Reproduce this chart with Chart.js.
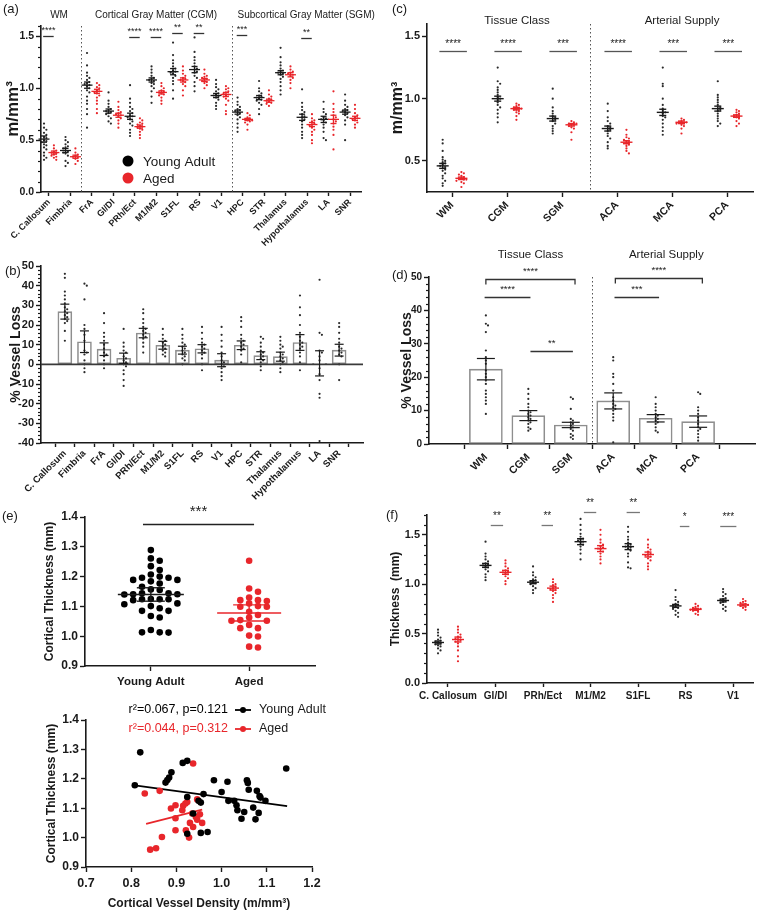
<!DOCTYPE html>
<html><head><meta charset="utf-8">
<script src="https://cdn.jsdelivr.net/npm/chart.js@4/dist/chart.umd.min.js"></script>
<style>
html,body{margin:0;padding:0;background:#fff;}
#wrap{position:relative;width:759px;height:914px;overflow:hidden;background:#fff}
canvas{position:absolute}
</style></head><body>
<div id="wrap">
<canvas id="cA" width="380" height="250" style="left:0px;top:0px"></canvas>
<canvas id="cB" width="380" height="260" style="left:0px;top:250px"></canvas>
<canvas id="cC" width="389" height="240" style="left:370px;top:0px"></canvas>
<canvas id="cD" width="389" height="245" style="left:370px;top:240px"></canvas>
<canvas id="cE1" width="380" height="215" style="left:0px;top:490px"></canvas>
<canvas id="cE2" width="380" height="214" style="left:0px;top:700px"></canvas>
<canvas id="cF" width="389" height="230" style="left:370px;top:490px"></canvas>
</div>
<script>
// ================= DATA =================
// ---- (a) vessel density by region ----
const regionsA = ['C. Callosum','Fimbria','FrA','GI/DI','PRh/Ect','M1/M2','S1FL','RS','V1','HPC','STR','Thalamus','Hypothalamus','LA','SNR'];
const groupsA = ['WM','Cortical Gray Matter (CGM)','Subcortical Gray Matter (SGM)'];
const ticksYA = [0, 0.5, 1.0, 1.5];
const densYoungA = [
 [0.66,0.62,0.60,0.57,0.55,0.53,0.52,0.50,0.49,0.48,0.46,0.45,0.43,0.41,0.38,0.35,0.33,0.31],
 [0.53,0.50,0.48,0.46,0.44,0.43,0.42,0.40,0.39,0.38,0.37,0.35,0.30,0.28,0.25],
 [1.34,1.22,1.15,1.12,1.10,1.08,1.06,1.05,1.04,1.03,1.02,1.00,0.98,0.96,0.92,0.88,0.85,0.80,0.75,0.62],
 [0.96,0.88,0.85,0.82,0.80,0.79,0.78,0.77,0.76,0.75,0.73,0.71,0.68,0.66],
 [1.03,0.90,0.86,0.82,0.80,0.78,0.76,0.74,0.73,0.72,0.70,0.68,0.66,0.64,0.60,0.57,0.54],
 [1.21,1.18,1.15,1.12,1.10,1.09,1.08,1.07,1.05,1.04,1.02,1.00,0.97,0.92,0.86],
 [1.44,1.32,1.27,1.24,1.21,1.19,1.17,1.16,1.15,1.14,1.12,1.10,1.07,1.04,0.98,0.90],
 [1.49,1.35,1.30,1.27,1.24,1.21,1.19,1.18,1.16,1.15,1.12,1.10,1.06,1.02,0.97],
 [1.08,1.04,1.01,0.99,0.97,0.95,0.94,0.93,0.92,0.91,0.89,0.86,0.83,0.80],
 [0.91,0.87,0.84,0.82,0.80,0.79,0.78,0.77,0.76,0.74,0.72,0.70,0.66,0.62,0.58],
 [1.07,1.00,0.97,0.95,0.93,0.92,0.91,0.90,0.89,0.88,0.86,0.84,0.80,0.75],
 [1.39,1.30,1.25,1.22,1.19,1.17,1.16,1.15,1.14,1.13,1.11,1.09,1.06,1.02,0.98,0.94],
 [0.99,0.86,0.82,0.79,0.77,0.75,0.73,0.72,0.70,0.68,0.65,0.62,0.58,0.55,0.52],
 [0.87,0.80,0.77,0.75,0.72,0.71,0.70,0.69,0.67,0.65,0.62,0.58,0.52,0.50],
 [0.94,0.88,0.84,0.82,0.80,0.79,0.78,0.77,0.76,0.74,0.72,0.69,0.65,0.50]
];
const densAgedA = [
 [0.45,0.42,0.40,0.39,0.38,0.37,0.36,0.35,0.34,0.33,0.31],
 [0.42,0.38,0.36,0.35,0.34,0.33,0.32,0.30,0.27],
 [1.05,1.03,1.01,1.00,0.98,0.97,0.96,0.95,0.93,0.91,0.88,0.85,0.80,0.76],
 [0.87,0.82,0.79,0.77,0.76,0.75,0.74,0.73,0.71,0.69,0.66,0.62],
 [0.71,0.69,0.67,0.66,0.65,0.64,0.63,0.62,0.61,0.60,0.58,0.55,0.52],
 [1.05,1.02,1.00,0.98,0.97,0.96,0.95,0.94,0.93,0.91,0.88,0.85],
 [1.21,1.17,1.14,1.12,1.10,1.09,1.08,1.07,1.06,1.04,1.02,0.98,0.93],
 [1.18,1.14,1.12,1.11,1.10,1.09,1.08,1.07,1.06,1.05,1.03,1.00],
 [1.02,1.00,0.99,0.97,0.96,0.95,0.94,0.93,0.92,0.90,0.88,0.84,0.78,0.75],
 [0.76,0.74,0.72,0.71,0.70,0.69,0.69,0.68,0.67,0.65,0.60],
 [0.98,0.94,0.92,0.90,0.89,0.88,0.87,0.86,0.85,0.83],
 [1.21,1.18,1.16,1.15,1.14,1.13,1.12,1.10,1.08,1.05,1.00],
 [0.75,0.71,0.69,0.68,0.66,0.65,0.64,0.62,0.60,0.58,0.55,0.50,0.47],
 [0.97,0.85,0.80,0.77,0.74,0.72,0.70,0.68,0.66,0.63,0.60,0.55,0.41],
 [0.84,0.80,0.76,0.74,0.72,0.71,0.70,0.69,0.67,0.65,0.62]
];
const meanYoungA = [0.51,0.40,1.03,0.78,0.73,1.08,1.16,1.18,0.93,0.77,0.91,1.15,0.72,0.70,0.77];
const semYoungA  = [0.03,0.02,0.03,0.02,0.03,0.02,0.03,0.03,0.02,0.02,0.02,0.02,0.03,0.03,0.02];
const meanAgedA  = [0.38,0.34,0.97,0.74,0.63,0.96,1.08,1.08,0.94,0.70,0.88,1.13,0.65,0.70,0.71];
const semAgedA   = [0.015,0.015,0.02,0.02,0.015,0.015,0.02,0.015,0.02,0.01,0.015,0.02,0.02,0.04,0.02];
const sigIdxA   = [0, 4, 5, 6, 7, 9, 12];
const sigLevelA = [1.50, 1.49, 1.49, 1.53, 1.53, 1.51, 1.48];
const sigTextA  = ['****','****','****','**','**','***','**'];

// ---- (b) % vessel loss by region ----
const ticksYB = [-40,-30,-20,-10,0,10,20,30,40,50];
const lossMeanB = [26.8,11.5,7.7,3.1,15.9,9.7,7.2,7.9,2.1,9.7,4.4,3.9,11.1,0.5,7.2];
const lossSemB  = [3.8,5.5,3.2,2.6,2.4,2.0,2.0,2.1,3.3,2.2,2.0,2.3,4.0,6.4,3.0];
const lossPtsB = [
 [46,44,37,35,33,31,29,28,27,26,25,24,23,22,21,17,12],
 [41,40,33,20,18,15,12,7,6,5,2,0,-2,-4],
 [26,21,16,14,12,10,8,6,5,4,2,0,-2],
 [18,11,9,7,6,4,3,2,1,0,-1,-3,-5,-8,-11],
 [28,26,23,21,19,18,17,16,15,14,13,11,9,6],
 [18,15,13,12,11,10,9,8,7,6,5,4],
 [18,15,13,11,10,9,8,7,6,5,4,3,2,0],
 [19,16,13,11,10,9,8,7,6,5,3,0,-3],
 [19,15,12,9,6,4,2,1,0,-1,-2,-4,-6,-8],
 [24,22,19,15,13,12,11,10,9,8,7,5,1],
 [14,13,11,9,7,6,5,4,3,2,1,-1,-3],
 [14,12,10,9,8,6,5,4,3,2,1,0,-2,-4],
 [35,29,25,20,16,14,12,11,10,9,8,6,4,1,-3],
 [43,16,15,7,6,4,2,-2,-5,-8,-15,-17,-39],
 [21,19,16,13,11,9,8,7,6,5,4,0,-8]
];

// ---- (c) vessel density by tissue class / arterial supply ----
const classesC = ['WM','CGM','SGM','ACA','MCA','PCA'];
const groupsC = ['Tissue Class','Arterial Supply'];
const ticksYC = [0.5, 1.0, 1.5];
const densYoungC = [
 [0.67,0.64,0.58,0.53,0.51,0.50,0.49,0.48,0.47,0.46,0.45,0.44,0.43,0.42,0.40,0.38,0.36,0.34,0.32,0.30],
 [1.25,1.14,1.12,1.09,1.07,1.05,1.03,1.01,1.00,0.99,0.97,0.95,0.93,0.91,0.88,0.85,0.81],
 [1.08,1.00,0.93,0.90,0.88,0.86,0.85,0.84,0.83,0.82,0.80,0.78,0.76,0.74,0.72],
 [0.96,0.90,0.85,0.82,0.80,0.78,0.77,0.76,0.75,0.74,0.72,0.70,0.68,0.65,0.62,0.60],
 [1.25,1.12,1.10,1.00,0.95,0.92,0.90,0.89,0.88,0.86,0.85,0.83,0.80,0.77,0.74,0.71],
 [1.14,1.03,1.01,0.99,0.97,0.95,0.93,0.92,0.91,0.90,0.88,0.86,0.84,0.82,0.80,0.78]
];
const densAgedC = [
 [0.41,0.40,0.39,0.38,0.37,0.36,0.36,0.35,0.35,0.34,0.33,0.32,0.29],
 [0.96,0.95,0.94,0.93,0.92,0.92,0.91,0.91,0.90,0.89,0.88,0.86,0.83],
 [0.82,0.81,0.80,0.80,0.79,0.79,0.78,0.77,0.76,0.73,0.67],
 [0.75,0.71,0.69,0.68,0.67,0.66,0.65,0.64,0.63,0.62,0.60,0.58,0.56],
 [0.84,0.83,0.82,0.81,0.81,0.80,0.80,0.79,0.78,0.76,0.72],
 [0.91,0.90,0.89,0.88,0.87,0.86,0.86,0.85,0.84,0.82,0.80,0.78]
];
const meanYoungC = [0.46,1.00,0.84,0.76,0.89,0.92];
const semYoungC  = [0.02,0.02,0.02,0.02,0.025,0.02];
const meanAgedC  = [0.36,0.92,0.79,0.65,0.81,0.86];
const semAgedC   = [0.01,0.01,0.01,0.012,0.01,0.01];
const sigTextC   = ['****','****','***','****','***','***'];
const sigLevelC  = 1.38;

// ---- (d) % vessel loss by tissue class / arterial supply ----
const ticksYD = [0,10,20,30,40,50];
const lossMeanD = [22.4,8.5,5.7,12.9,7.7,6.7];
const lossSemD  = [3.2,1.5,0.8,2.4,1.1,1.7];
const lossPtsD = [
 [38.5,36,35.5,33.5,28,26,25,24,22,21,20,19,18,16,15,14,13,12,9],
 [16.5,15,13.5,12,11,10,9.5,9,8.5,8,7.5,7,6.5,6,5,4.5,4],
 [14,13.5,10.5,7.5,7,6.5,6,5.5,5,4.5,4,3,2.5,2,1.5],
 [26,25,21,20,18,16,14,13,12,11.5,11,10.5,10,9,8,7,0.5],
 [14,12,11,10,9,8.5,8,7.5,7,6.5,6,5,4,3.5],
 [15.5,15,11,10,9,8,7,6,5,4.5,4,3,2,1]
];
// comparisons: [from, to, level, text, bracket]
const compD = [
 [0, 2.1, 49.4, '****', true],
 [-0.03, 1.05, 44, '****', false],
 [1.05, 2.05, 27.8, '**', false],
 [3.05, 5.1, 49.7, '****', true],
 [3.03, 4.08, 44, '***', false]
];

// ---- (e) cortical thickness ----
const ageGroups = ['Young Adult','Aged'];
const ticksYE = [0.9,1.0,1.1,1.2,1.3,1.4];
const thickYoungE = [1.289,1.261,1.253,1.235,1.222,1.207,1.200,1.196,1.196,1.189,1.189,1.184,1.177,1.166,1.157,1.155,1.144,1.144,1.141,1.141,1.140,1.125,1.124,1.124,1.124,1.121,1.110,1.107,1.101,1.094,1.085,1.085,1.068,1.063,1.021,1.013,1.013,1.012];
const thickAgedE  = [1.253,1.160,1.149,1.130,1.121,1.121,1.118,1.110,1.101,1.099,1.099,1.082,1.071,1.063,1.054,1.052,1.052,1.038,1.027,1.027,1.002,0.999,0.965,0.962];
const meanE = [1.140, 1.078];
const semE  = [0.0225, 0.027];
// scatter: density (x) vs thickness (y)
const ticksXE2 = [0.7,0.8,0.9,1.0,1.1,1.2];
const youngDens  = [0.820,0.808,0.914,0.924,0.889,0.876,0.880,0.884,0.924,0.949,0.954,0.960,0.937,0.924,0.954,0.969,0.983,1.000,1.013,1.015,1.028,1.033,1.035,1.044,1.050,1.056,1.058,1.060,1.070,1.075,1.078,1.082,1.084,1.086,1.097,1.143];
const youngThick = [1.290,1.178,1.254,1.261,1.222,1.187,1.196,1.204,1.138,1.125,1.119,1.148,1.082,1.013,1.016,1.019,1.195,1.155,1.190,1.125,1.125,1.110,1.093,1.064,1.087,1.195,1.186,1.163,1.102,1.062,1.159,1.084,1.141,1.136,1.125,1.235];
const agedDens   = [0.830,0.863,0.937,0.888,0.898,0.913,0.915,0.920,0.924,0.898,0.898,0.868,0.842,0.855,0.921,0.928,0.930,0.937,0.935,0.946,0.943,0.946,0.957,0.952];
const agedThick  = [1.150,1.159,1.252,1.099,1.110,1.093,1.108,1.116,1.121,1.066,1.025,1.002,0.959,0.964,1.025,1.000,1.050,1.036,1.082,1.130,1.070,1.061,1.050,1.079];
const fitYoungX = [0.808, 1.145], fitYoungY = [1.178, 1.107];
const fitAgedX  = [0.833, 0.957], fitAgedY  = [1.047, 1.095];
const statsE2 = ['r\u00B2=0.067, p=0.121', 'r\u00B2=0.044, p=0.312'];

// ---- (f) thickness by region ----
const regionsF = ['C. Callosum','GI/DI','PRh/Ect','M1/M2','S1FL','RS','V1'];
const ticksYF = [0, 0.5, 1.0, 1.5];
const thickYoungF = [
 [0.54,0.51,0.48,0.46,0.44,0.43,0.42,0.41,0.40,0.39,0.38,0.37,0.35,0.33,0.30],
 [1.43,1.31,1.28,1.25,1.23,1.21,1.20,1.19,1.18,1.17,1.15,1.13,1.10,1.07,1.04],
 [1.18,1.12,1.09,1.07,1.05,1.04,1.03,1.02,1.01,1.00,0.98,0.96,0.94,0.91],
 [1.66,1.60,1.55,1.51,1.48,1.46,1.45,1.44,1.43,1.42,1.40,1.38,1.35,1.31,1.25],
 [1.58,1.53,1.48,1.45,1.42,1.40,1.39,1.38,1.37,1.36,1.34,1.31,1.28,1.22,1.17,1.16],
 [0.94,0.87,0.84,0.82,0.80,0.79,0.78,0.77,0.76,0.75,0.73,0.71,0.69,0.67],
 [0.95,0.92,0.90,0.88,0.86,0.85,0.84,0.83,0.82,0.81,0.79,0.77,0.75,0.73]
];
const thickAgedF = [
 [0.57,0.54,0.51,0.49,0.47,0.46,0.45,0.44,0.43,0.42,0.40,0.37,0.33,0.27,0.22],
 [1.24,1.21,1.18,1.16,1.14,1.13,1.12,1.11,1.10,1.08,1.06,1.03,1.00],
 [1.05,1.02,1.00,0.99,0.97,0.96,0.95,0.94,0.93,0.91,0.89,0.86,0.82],
 [1.55,1.50,1.45,1.42,1.40,1.38,1.37,1.36,1.35,1.33,1.31,1.28,1.25,1.21],
 [1.45,1.40,1.37,1.35,1.33,1.31,1.30,1.29,1.28,1.26,1.24,1.21,1.18,1.15],
 [0.80,0.78,0.77,0.76,0.75,0.75,0.74,0.74,0.73,0.72,0.70,0.69],
 [0.85,0.83,0.82,0.81,0.80,0.79,0.79,0.78,0.77,0.76,0.74]
];
const meanYoungF = [0.41,1.19,1.02,1.43,1.38,0.78,0.835];
const semYoungF  = [0.015,0.02,0.015,0.03,0.03,0.015,0.015];
const meanAgedF  = [0.44,1.12,0.96,1.36,1.30,0.745,0.79];
const semAgedF   = [0.025,0.02,0.02,0.03,0.025,0.01,0.01];
const sigCenterF = [1.03, 2.09, 2.99, 3.9, 4.98, 5.9];
const sigHalfF   = [0.13, 0.12, 0.13, 0.14, 0.10, 0.17];
const sigLevelF  = [1.60, 1.60, 1.73, 1.73, 1.59, 1.59];
const sigTextF   = ['**','**','**','**','*','***'];

// ================= RENDERING =================
const FONT = "'Liberation Sans', Arial, Helvetica, sans-serif";
const BLK = '#1a1a1a', RED = '#e8262b', GRY = '#8e8e8e';
Chart.defaults.font.family = FONT;
Chart.defaults.color = BLK;

// beeswarm layout: horizontal offsets only, values unchanged
function swarm(vals, center, stepX, tolY) {
  const placed = [], out = [];
  vals.slice().sort((a, b) => b - a).forEach(v => {
    let n = 0, k = 0;
    for (;;) {
      k = n === 0 ? 0 : (n % 2 === 1 ? (n + 1) / 2 : -n / 2);
      if (!placed.some(p => p.k === k && Math.abs(p.v - v) < tolY)) break;
      n++;
    }
    placed.push({k, v});
    out.push({x: center + k * stepX, y: v});
  });
  return out;
}
function cloud(groups, off, stepX, tolY) {
  return groups.flatMap((vals, i) => swarm(vals, i + off, stepX, tolY));
}
function pts(data, color, r) {
  return {type: 'scatter', data, backgroundColor: color, borderWidth: 0, pointRadius: r, pointHoverRadius: r, order: 1};
}
function bars(means, thick) {
  return {type: 'bar', data: means.map((m, i) => ({x: i, y: m})), backgroundColor: '#fff', borderColor: GRY,
    borderWidth: 1.6, borderSkipped: false, barThickness: thick, order: 3};
}
function axis(o, horizontal) {
  return {
    type: 'linear', min: o.min, max: o.max,
    afterBuildTicks: s => { s.ticks = o.ticks.map(v => ({value: v})); },
    afterFit: s => {
      if (horizontal) s.height = o.size; else s.width = o.size;
      s.paddingLeft = 0; s.paddingRight = 0; s.paddingTop = 0; s.paddingBottom = 0;
    },
    border: {display: true, color: BLK, width: o.bw || 1.6},
    grid: {display: true, drawOnChartArea: false, drawTicks: true, tickLength: o.tl === undefined ? 5 : o.tl, tickColor: BLK, tickWidth: 1.4},
    ticks: {autoSkip: false, padding: o.pad === undefined ? 2 : o.pad, color: BLK,
      font: {size: o.fs, weight: 'bold', family: FONT}, callback: o.cb,
      maxRotation: o.rot || 0, minRotation: o.rot || 0},
    title: o.title ? {display: true, text: o.title, color: BLK, font: {size: o.tfs, weight: 'bold', family: FONT},
      padding: {top: 0, bottom: o.tpad || 0}} : {display: false}
  };
}
function makeChart(id, pad, datasets, xo, yo) {
  return new Chart(document.getElementById(id), {
    type: 'scatter',
    data: {datasets},
    options: {
      responsive: false, animation: false, devicePixelRatio: 1, events: [],
      layout: {padding: pad},
      plugins: {legend: {display: false}, tooltip: {enabled: false}},
      scales: {x: axis(xo, true), y: axis(yo, false)}
    }
  });
}

const DECOR = {};
function seg(ctx, x1, y1, x2, y2) { ctx.beginPath(); ctx.moveTo(x1, y1); ctx.lineTo(x2, y2); ctx.stroke(); }
Chart.register({
  id: 'decor',
  beforeDatasetsDraw(chart) {
    const d = DECOR[chart.canvas.id]; if (!d) return;
    const ctx = chart.ctx, ca = chart.chartArea, xs = chart.scales.x;
    ctx.save();
    ctx.strokeStyle = '#555'; ctx.lineWidth = 1; ctx.setLineDash([1.5, 2.5]);
    (d.dividers || []).forEach(v => { const x = Math.round(xs.getPixelForValue(v)) + 0.5; seg(ctx, x, ca.top, x, ca.bottom); });
    ctx.restore();
  },
  afterDatasetsDraw(chart) {
    const d = DECOR[chart.canvas.id]; if (!d) return;
    const ctx = chart.ctx, ca = chart.chartArea, xs = chart.scales.x, ys = chart.scales.y;
    ctx.save();
    if (d.zero !== undefined) {
      ctx.strokeStyle = '#3a3a3a'; ctx.lineWidth = 1.8;
      const y = ys.getPixelForValue(d.zero); seg(ctx, ca.left, y, ca.right, y);
    }
    (d.summ || []).forEach(s => {
      ctx.strokeStyle = s.color; ctx.lineWidth = s.lw;
      s.means.forEach((m, i) => {
        const cx = xs.getPixelForValue(i + s.off);
        const e = s.errs[i], yt = ys.getPixelForValue(m + e), yb = ys.getPixelForValue(m - e), ym = ys.getPixelForValue(m);
        if (s.meanW) seg(ctx, cx - s.meanW / 2, ym, cx + s.meanW / 2, ym);
        seg(ctx, cx, yt, cx, yb);
        seg(ctx, cx - s.capW / 2, yt, cx + s.capW / 2, yt);
        seg(ctx, cx - s.capW / 2, yb, cx + s.capW / 2, yb);
      });
    });
    ctx.restore();
  },
  afterDraw(chart) {
    const d = DECOR[chart.canvas.id]; if (!d) return;
    const ctx = chart.ctx, ca = chart.chartArea, xs = chart.scales.x, ys = chart.scales.y;
    const X = v => xs.getPixelForValue(v), Y = v => ys.getPixelForValue(v);
    ctx.save();
    if (d.minor) {
      const m = d.minor;
      ctx.strokeStyle = BLK; ctx.lineWidth = 1.2;
      for (let k = 0; ; k++) {
        const v = m.from + k * m.step; if (v > m.to + 1e-9) break;
        if (m.skip.some(s => Math.abs(s - v) < 1e-6)) continue;
        const y = Math.round(Y(v)) + 0.5; seg(ctx, ca.left - m.len, y, ca.left, y);
      }
    }
    (d.sig || []).forEach(s => {
      ctx.strokeStyle = s.color || '#333'; ctx.lineWidth = s.lw || 1.3;
      const x1 = X(s.x1), x2 = X(s.x2), y = Math.round(Y(s.y)) + 0.5;
      ctx.beginPath();
      if (s.ends) { ctx.moveTo(x1, y + s.ends); ctx.lineTo(x1, y); ctx.lineTo(x2, y); ctx.lineTo(x2, y + s.ends); }
      else { ctx.moveTo(x1, y); ctx.lineTo(x2, y); }
      ctx.stroke();
      ctx.fillStyle = s.tcolor || '#222'; ctx.font = s.size + 'px ' + FONT;
      ctx.textAlign = 'center'; ctx.textBaseline = 'alphabetic';
      const tx = s.tx !== undefined ? s.tx : (s.x1 + s.x2) / 2;
      ctx.fillText(s.t, X(tx), y - s.off + 0.58 * s.size);
    });
    (d.texts || []).forEach(t => {
      ctx.fillStyle = t.color || BLK; ctx.font = t.font;
      ctx.textAlign = t.align || 'center'; ctx.textBaseline = t.base || 'middle';
      const x = t.px !== undefined ? t.px : X(t.x), y = t.py !== undefined ? t.py : Y(t.y);
      ctx.fillText(t.t, x, y);
    });
    (d.legend || []).forEach(l => {
      ctx.fillStyle = l.color; ctx.strokeStyle = l.color;
      if (l.kind === 'dot') {
        ctx.beginPath(); ctx.arc(l.px, l.py, l.r, 0, Math.PI * 2); ctx.fill();
        ctx.fillStyle = BLK; ctx.font = l.font; ctx.textAlign = 'left'; ctx.textBaseline = 'middle';
        ctx.fillText(l.label, l.px + 15, l.py + 1);
      } else {
        ctx.lineWidth = 1.8; seg(ctx, l.px, l.py, l.px + 16, l.py);
        ctx.beginPath(); ctx.arc(l.px + 8, l.py, 3, 0, Math.PI * 2); ctx.fill();
        ctx.font = l.font; ctx.textBaseline = 'middle';
        ctx.fillStyle = l.color; ctx.textAlign = 'right'; ctx.fillText(l.pre, l.px - 7, l.py);
        ctx.fillStyle = BLK; ctx.textAlign = 'left'; ctx.fillText(l.label, l.px + 24, l.py);
      }
    });
    ctx.restore();
  }
});

const f = (s, w) => (w ? 'bold ' : '') + s + 'px ' + FONT;

// ---------- (a) ----------
DECOR.cA = {
  dividers: [1.5, 8.5],
  minor: {from: 0, to: 1.6, step: 0.1, skip: ticksYA, len: 3},
  summ: [
    {means: meanYoungA, errs: semYoungA, off: -0.23, color: BLK, meanW: 11, capW: 6, lw: 1.3},
    {means: meanAgedA, errs: semAgedA, off: 0.23, color: RED, meanW: 11, capW: 6, lw: 1.3}
  ],
  sig: sigIdxA.map((i, k) => ({x1: i - 0.27, x2: i + 0.22, y: sigLevelA[k], t: sigTextA[k], off: 9, size: 9, color: '#333'})),
  texts: [
    {t: groupsA[0], x: 0.47, py: 15, font: f(10)},
    {t: groupsA[1], x: 4.98, py: 15, font: f(10)},
    {t: groupsA[2], x: 11.96, py: 15, font: f(10)},
    {t: '(a)', px: 3, py: 9, font: f(13), align: 'left'}
  ],
  legend: [
    {kind: 'dot', px: 128, py: 161, r: 5.5, color: '#000', label: ageGroups[0], font: f(13.5)},
    {kind: 'dot', px: 128, py: 178, r: 5.5, color: RED, label: ageGroups[1], font: f(13.5)}
  ]
};
makeChart('cA', {left: 3, top: 26, right: 19, bottom: 0}, [
  pts(cloud(densYoungA, -0.23, 0.11, 0.024), '#2a2a2a', 1.1),
  pts(cloud(densAgedA, 0.23, 0.11, 0.024), RED, 1.1)
], {min: -0.37, max: 14.51, ticks: regionsA.map((r, i) => i), size: 58, tl: 4, fs: 9, rot: 45, pad: 1, cb: v => regionsA[Math.round(v)]},
   {min: 0, max: 1.6, ticks: ticksYA, size: 38, fs: 10.5, cb: v => v.toFixed(1), title: 'm/mm\u00B3', tfs: 17});

// ---------- (b) ----------
DECOR.cB = {
  zero: 0,
  minor: {from: -40, to: 50, step: 2, skip: ticksYB, len: 3},
  summ: [{means: lossMeanB, errs: lossSemB, off: 0, color: BLK, meanW: 0, capW: 9, lw: 1.2}],
  texts: [{t: '(b)', px: 5, py: 21, font: f(13), align: 'left'}]
};
makeChart('cB', {left: 8, top: 16, right: 17, bottom: 0}, [
  bars(lossMeanB, 14),
  pts(cloud(lossPtsB, 0, 0.12, 1.3), '#2a2a2a', 1.1)
], {min: -0.67, max: 14.67, ticks: regionsA.map((r, i) => i), size: 67, tl: 4, fs: 9.5, rot: 45, pad: 1, cb: v => regionsA[Math.round(v)]},
   {min: -40, max: 50, ticks: ticksYB, size: 33, fs: 11, cb: v => String(v), title: '% Vessel Loss', tfs: 14});

// ---------- (c) ----------
DECOR.cC = {
  dividers: [2.5],
  summ: [
    {means: meanYoungC, errs: semYoungC, off: -0.17, color: BLK, meanW: 12, capW: 7, lw: 1.4},
    {means: meanAgedC, errs: semAgedC, off: 0.17, color: RED, meanW: 12, capW: 7, lw: 1.4}
  ],
  sig: sigTextC.map((t, i) => ({x1: i - 0.23, x2: i + 0.27, y: sigLevelC, t, off: 10, size: 10, color: '#555'})),
  texts: [
    {t: groupsC[0], x: 1.18, py: 21, font: f(11.5)},
    {t: groupsC[1], x: 4.18, py: 21, font: f(11.5)},
    {t: '(c)', px: 22, py: 9, font: f(13), align: 'left'}
  ]
};
makeChart('cC', {left: 18, top: 24, right: 6, bottom: 0}, [
  pts(cloud(densYoungC, -0.17, 0.045, 0.02), '#2a2a2a', 1.1),
  pts(cloud(densAgedC, 0.17, 0.045, 0.02), RED, 1.1)
], {min: -0.455, max: 5.47, ticks: classesC.map((c, i) => i), size: 48, tl: 5, fs: 10.5, rot: 45, pad: 2, cb: v => classesC[Math.round(v)]},
   {min: 0.25, max: 1.6, ticks: ticksYC, size: 39, fs: 11, cb: v => v.toFixed(1), title: 'm/mm\u00B3', tfs: 16});

// ---------- (d) ----------
DECOR.cD = {
  dividers: [2.5],
  minor: {from: 0, to: 50, step: 2, skip: ticksYD, len: 3},
  summ: [{means: lossMeanD, errs: lossSemD, off: 0, color: BLK, meanW: 0, capW: 18, lw: 1.2}],
  sig: compD.map(c => ({x1: c[0], x2: c[1], y: c[2], t: c[3], ends: c[4] ? 5 : 0, off: 11, size: 9.5, color: '#333'})),
  texts: [
    {t: groupsC[0], x: 1.05, py: 15, font: f(11.5)},
    {t: groupsC[1], x: 4.25, py: 15, font: f(11.5)},
    {t: '(d)', px: 22, py: 35, font: f(13), align: 'left'}
  ]
};
makeChart('cD', {left: 29, top: 37, right: 4, bottom: 0}, [
  bars(lossMeanD, 33),
  pts(cloud(lossPtsD, 0, 0.05, 0.75), '#2a2a2a', 1.1)
], {min: -0.7, max: 5.7, ticks: classesC.map((c, i) => i), size: 41, tl: 5, fs: 10.5, rot: 45, pad: 2, cb: v => classesC[Math.round(v)]},
   {min: 0, max: 50, ticks: ticksYD, size: 30, fs: 10, cb: v => String(v), title: '% Vessel Loss', tfs: 14});

// ---------- (e) top ----------
DECOR.cE1 = {
  summ: [
    {means: [meanE[0]], errs: [semE[0]], off: 0, color: BLK, meanW: 66, capW: 28, lw: 1.4},
    {means: [meanE[1]], errs: [semE[1]], off: 1, color: RED, meanW: 64, capW: 32, lw: 1.4}
  ],
  sig: [{x1: -0.08, x2: 1.05, y: 1.376, t: '***', off: 17, size: 15, color: '#222'}],
  texts: [{t: '(e)', px: 2, py: 26, font: f(13), align: 'left'}]
};
makeChart('cE1', {left: 42, top: 27, right: 65, bottom: 0}, [
  pts(swarm(thickYoungE, 0, 0.09, 0.019), '#000', 3.3),
  pts(swarm(thickAgedE, 1, 0.09, 0.019), RED, 3.3)
], {min: -0.67, max: 1.67, ticks: [0, 1], size: 39, tl: 5, fs: 11.5, pad: 4, cb: v => ageGroups[Math.round(v)]},
   {min: 0.9, max: 1.4, ticks: ticksYE, size: 43, fs: 12, cb: v => v.toFixed(1), title: 'Cortical Thickness (mm)', tfs: 12});

// ---------- (e) bottom ----------
DECOR.cE2 = {
  legend: [
    {kind: 'line', px: 235, py: 10, color: '#000', pre: statsE2[0], label: ageGroups[0], font: f(12.5)},
    {kind: 'line', px: 235, py: 29, color: RED, pre: statsE2[1], label: ageGroups[1], font: f(12.5)}
  ]
};
makeChart('cE2', {left: 44, top: 20, right: 68, bottom: 0}, [
  {type: 'line', data: fitYoungX.map((x, i) => ({x, y: fitYoungY[i]})), borderColor: '#000', borderWidth: 1.8, pointRadius: 0, fill: false, order: 2},
  {type: 'line', data: fitAgedX.map((x, i) => ({x, y: fitAgedY[i]})), borderColor: RED, borderWidth: 1.8, pointRadius: 0, fill: false, order: 2},
  pts(youngDens.map((x, i) => ({x, y: youngThick[i]})), '#000', 3.3),
  pts(agedDens.map((x, i) => ({x, y: agedThick[i]})), RED, 3.3)
], {min: 0.7, max: 1.2, ticks: ticksXE2, size: 47, tl: 5, fs: 12.5, pad: 4, cb: v => v.toFixed(1), title: 'Cortical Vessel Density (m/mm\u00B3)', tfs: 12, tpad: 3},
   {min: 0.9, max: 1.4, ticks: ticksYE, size: 42, fs: 12, cb: v => v.toFixed(1), title: 'Cortical Thickness (mm)', tfs: 12});

// ---------- (f) ----------
DECOR.cF = {
  minor: {from: 0, to: 1.7, step: 0.1, skip: ticksYF, len: 3},
  summ: [
    {means: meanYoungF, errs: semYoungF, off: -0.21, color: BLK, meanW: 12, capW: 7, lw: 1.4},
    {means: meanAgedF, errs: semAgedF, off: 0.21, color: RED, meanW: 12, capW: 7, lw: 1.4}
  ],
  sig: sigTextF.map((t, k) => ({x1: sigCenterF[k] - sigHalfF[k], x2: sigCenterF[k] + sigHalfF[k], y: sigLevelF[k], t, off: 12, size: 10, color: '#777'})),
  texts: [{t: '(f)', px: 16, py: 25, font: f(13), align: 'left'}]
};
makeChart('cF', {left: 18, top: 25, right: 6, bottom: 0}, [
  pts(cloud(thickYoungF, -0.21, 0.053, 0.025), '#2a2a2a', 1.1),
  pts(cloud(thickAgedF, 0.21, 0.053, 0.025), RED, 1.1)
], {min: -0.442, max: 6.42, ticks: regionsF.map((r, i) => i), size: 37, tl: 4, fs: 10, pad: 3, cb: v => regionsF[Math.round(v)]},
   {min: 0, max: 1.7, ticks: ticksYF, size: 39, fs: 11, cb: v => v.toFixed(1), title: 'Thickness  (mm)', tfs: 12});
</script>
</body></html>
